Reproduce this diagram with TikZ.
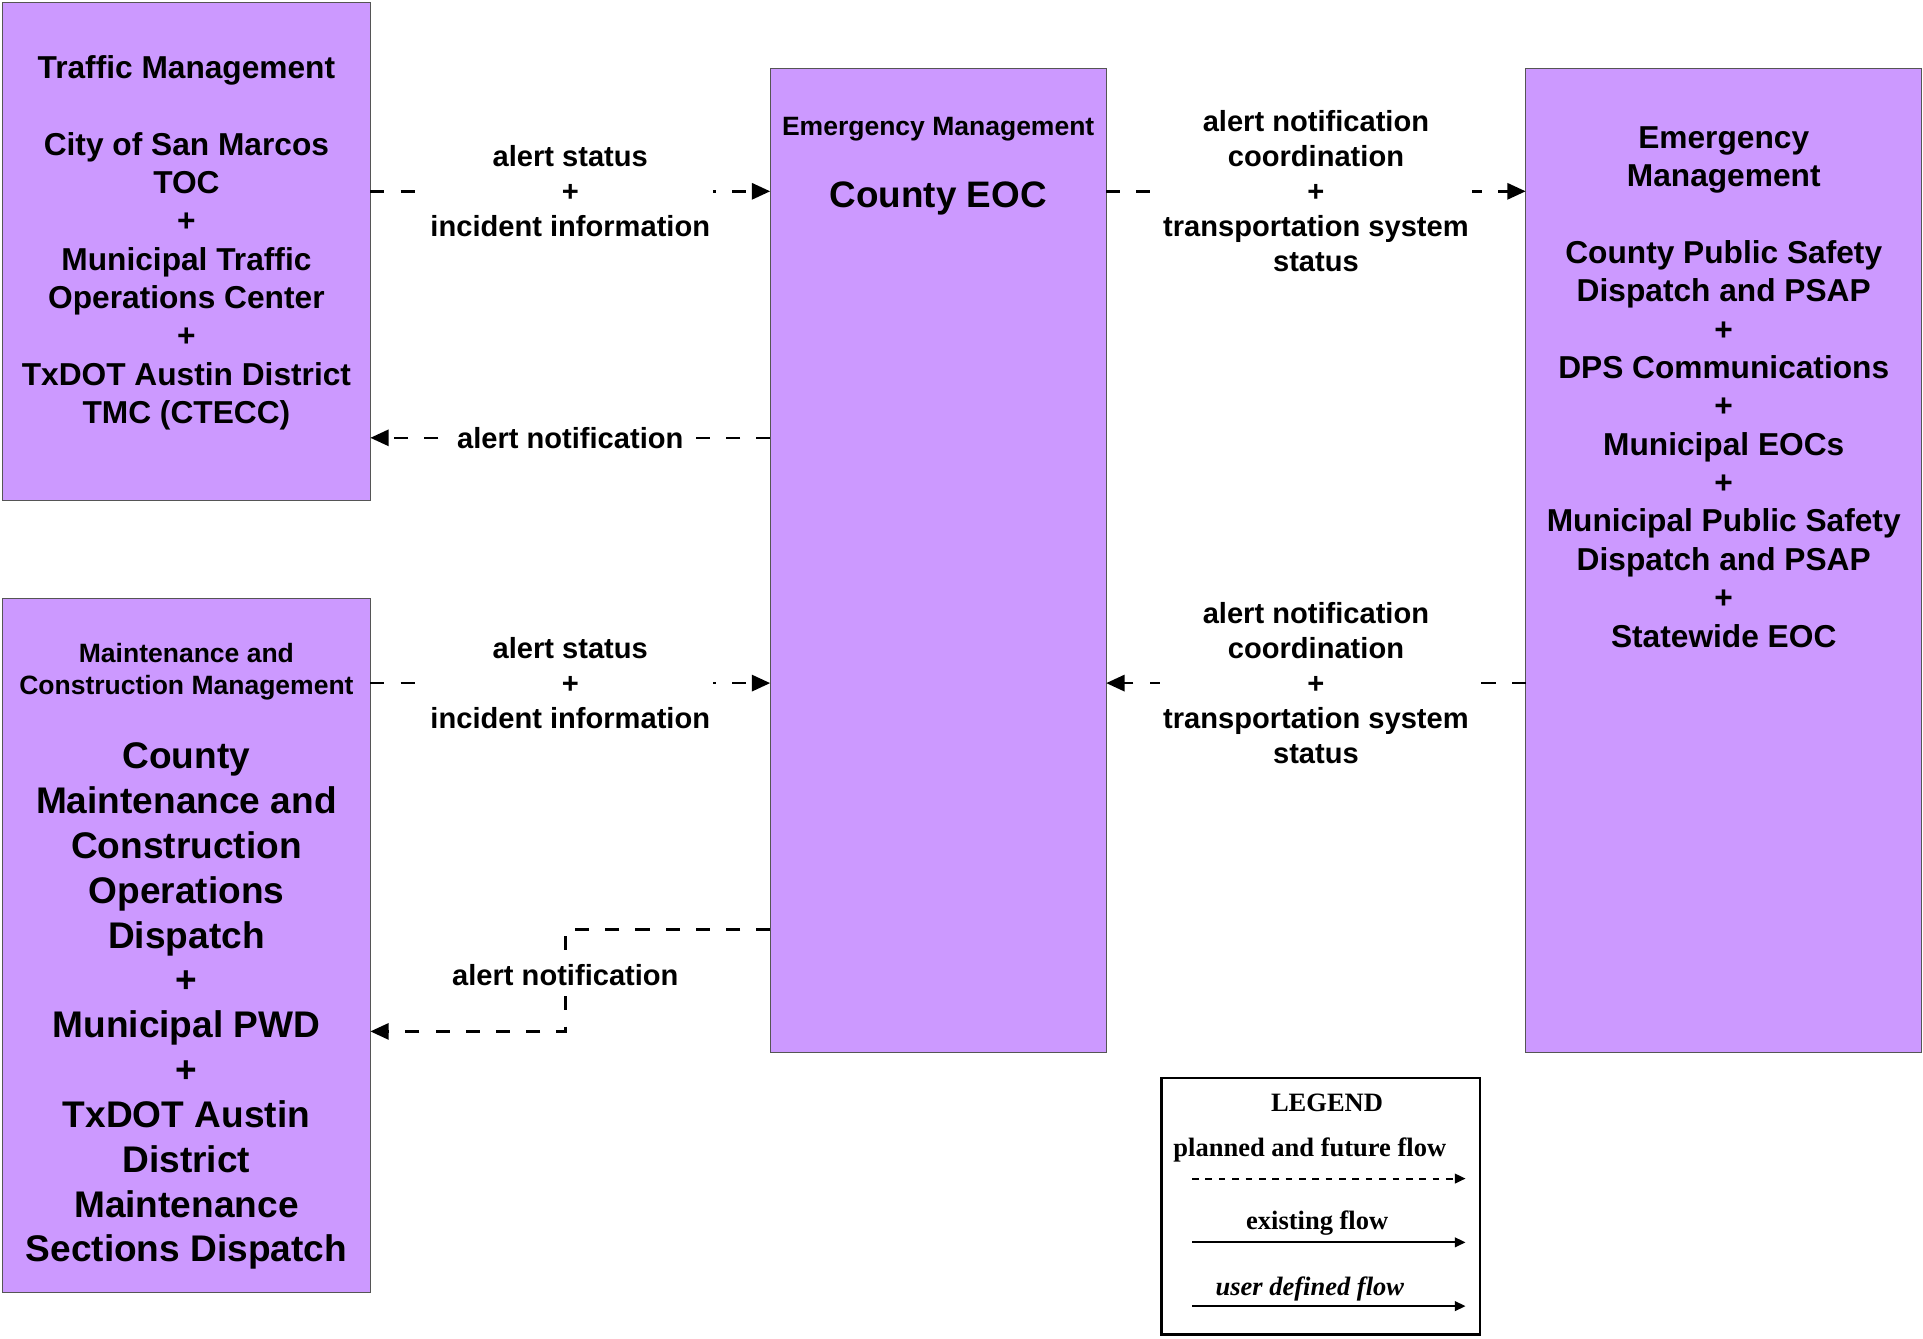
\documentclass[tikz,border=0pt]{standalone}
\usepackage{fontspec}
\setmainfont{Liberation Serif}
\setsansfont{Liberation Sans}
\usetikzlibrary{arrows.meta,positioning}

\definecolor{boxfill}{RGB}{204,153,255}
\definecolor{boxline}{RGB}{85,85,85}

\tikzset{
    sysbox/.style={draw=boxline, fill=boxfill, line width=0.6pt, anchor=north west, inner sep=0pt, outer sep=0pt},
    boxtext/.style={font=\sffamily\bfseries\fontsize{14.7}{17.8}\selectfont, align=center, inner sep=0pt},
    headtext/.style={font=\sffamily\bfseries\fontsize{12.3}{14.8}\selectfont, align=center, inner sep=0pt},
    bigtext/.style={font=\sffamily\bfseries\fontsize{17.2}{20.8}\selectfont, align=center, inner sep=0pt},
    flowlabel/.style={font=\sffamily\bfseries\fontsize{13.5}{16.2}\selectfont, align=center, fill=white, inner sep=1.5pt},
    flow/.style={line width=1.2pt, dash pattern=on 6.5pt off 7.5pt, -{Triangle[length=8.5pt,width=7.5pt]}},
    legendtext/.style={font=\rmfamily\bfseries\fontsize{12.3}{14.8}\selectfont, inner sep=0pt},
    legendflow/.style={line width=0.9pt, -{Triangle[length=5pt,width=4.5pt]}}
}

\begin{document}
\begin{tikzpicture}
        \useasboundingbox (0,0) rectangle (31.36,21.82);

        % Boxes
        \node[sysbox, minimum width=6cm, minimum height=8.12cm] (tm) at (0.04,21.78) {};
        \node[sysbox, minimum width=5.48cm, minimum height=16.04cm] (eoc) at (12.56,20.7) {};
        \node[sysbox, minimum width=6.46cm, minimum height=16.04cm] (em) at (24.88,20.7) {};
        \node[sysbox, minimum width=6cm, minimum height=11.32cm] (mcm) at (0.04,12.06) {};

        % Box texts
        \node[boxtext] (tmtext) at (3.04,17.86) {Traffic Management\\[17.8pt]City of San Marcos\\TOC\\+\\Municipal Traffic\\Operations Center\\+\\TxDOT Austin District\\TMC (CTECC)};
        \node[headtext] (eochead) at (15.3,19.72) {Emergency Management};
        \node[font=\sffamily\bfseries\fontsize{17.1}{20.5}\selectfont, inner sep=0pt] (eocname) at (15.3,18.58) {County EOC};
        \node[boxtext] (emtext) at (28.11,15.51) {Emergency\\Management\\[17.8pt]County Public Safety\\Dispatch and PSAP\\+\\DPS Communications\\+\\Municipal EOCs\\+\\Municipal Public Safety\\Dispatch and PSAP\\+\\Statewide EOC};
        \node[headtext] (mcmhead) at (3.04,10.86) {Maintenance and\\Construction Management};
        \node[bigtext] (mcmname) at (3.04,5.41) {County\\Maintenance and\\Construction\\Operations\\Dispatch\\+\\Municipal PWD\\+\\TxDOT Austin\\District\\Maintenance\\Sections Dispatch};

        % Flows
        \coordinate (rowa) at (0,18.7);
        \coordinate (rowb) at (0,14.68);
        \coordinate (rowc) at (0,10.68);
        \coordinate (bend) at (9.22,6.66);
        \coordinate (bendlow) at (9.22,5.0);

        \draw[flow] (tm.east |- rowa) -- node[flowlabel] (tmeoc) {alert status\\+\\incident information} (eoc.west |- rowa);
        \draw[flow] (eoc.west |- rowb) -- node[flowlabel] (eoctm) {alert notification} (tm.east |- rowb);
        \draw[flow] (eoc.east |- rowa) -- node[flowlabel] (eocem) {alert notification\\coordination\\+\\transportation system\\status} (em.west |- rowa);
        \draw[flow] (em.west |- rowc) -- node[flowlabel] (emeoc) {alert notification\\coordination\\+\\transportation system\\status} (eoc.east |- rowc);
        \draw[flow] (mcm.east |- rowc) -- node[flowlabel] (mcmeoc) {alert status\\+\\incident information} (eoc.west |- rowc);
        \draw[flow] (eoc.west |- bend) -- (bend) -- node[flowlabel, pos=0.45] (eocmcm) {alert notification} (bendlow) -- (mcm.east |- bendlow);

        % Legend
        \node[draw, line width=1.1pt, minimum width=5.2cm, minimum height=4.18cm, anchor=north west, inner sep=0pt, outer sep=0pt] (legend) at (18.94,4.24) {};
        \node[legendtext] (legtitle) at (21.64,3.84) {LEGEND};
        \node[legendtext] (legplanned) at (21.36,3.06) {planned and future flow};
        \node[legendtext] (legexisting) at (21.48,1.88) {existing flow};
        \node[legendtext, font=\rmfamily\bfseries\itshape\fontsize{12.3}{14.8}\selectfont] (leguser) at (21.36,0.8) {user defined flow};
        \coordinate (plannedstart) at (19.44,2.6);
        \coordinate (plannedend) at (23.9,2.6);
        \coordinate (existingstart) at (19.44,1.56);
        \coordinate (existingend) at (23.9,1.56);
        \coordinate (userstart) at (19.44,0.52);
        \coordinate (userend) at (23.9,0.52);
        \draw[legendflow, dash pattern=on 3.1pt off 3.1pt] (plannedstart) -- (plannedend);
        \draw[legendflow] (existingstart) -- (existingend);
        \draw[legendflow] (userstart) -- (userend);
\end{tikzpicture}
\end{document}
